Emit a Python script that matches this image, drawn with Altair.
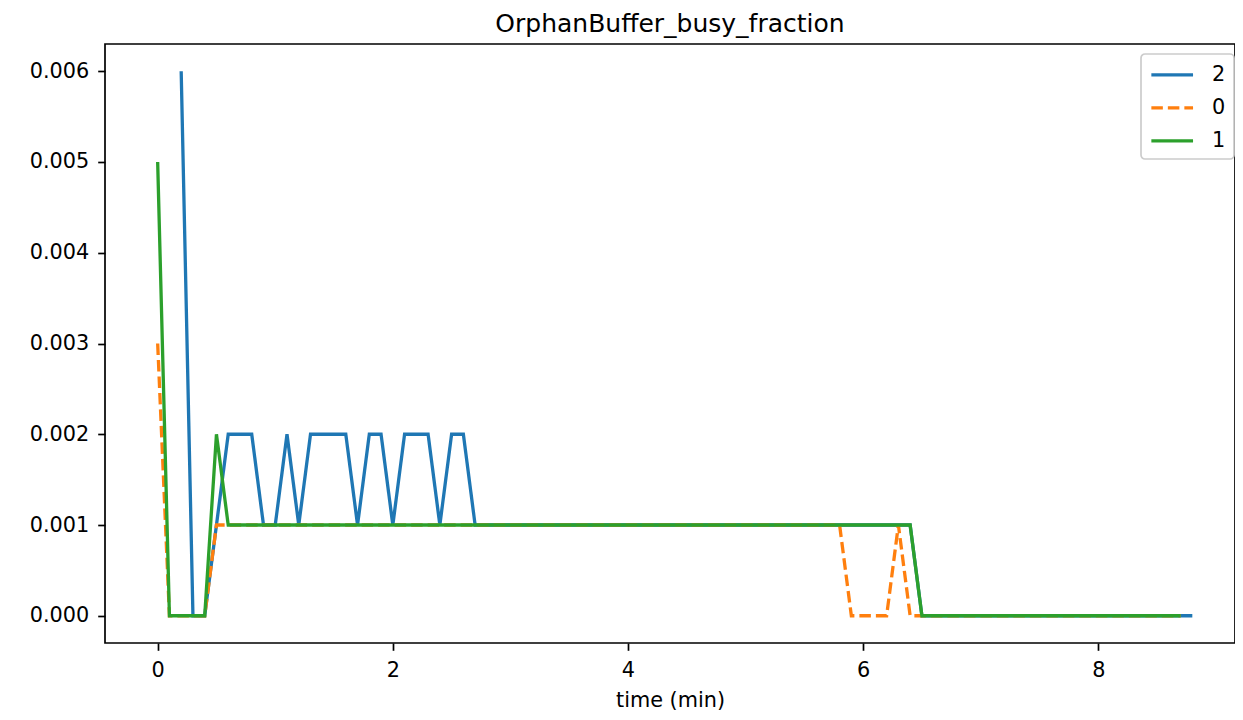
import altair as alt
import pandas as pd

# ---- data ----
series_order = ["2", "0", "1"]
series_colors = ["#1f77b4", "#ff7f0e", "#2ca02c"]

# series "2" sampled from t = 0.2 min to 8.8 min every 0.1 min
blue_start = 0.2
blue_values = [
    0.006, 0.0, 0.0, 0.001, 0.002, 0.002, 0.002, 0.001,
    0.001, 0.002, 0.001, 0.002, 0.002, 0.002, 0.002, 0.001, 0.002, 0.002,
    0.001, 0.002, 0.002, 0.002, 0.001, 0.002, 0.002, 0.001, 0.001, 0.001,
    0.001, 0.001, 0.001, 0.001, 0.001, 0.001, 0.001, 0.001, 0.001, 0.001,
    0.001, 0.001, 0.001, 0.001, 0.001, 0.001, 0.001, 0.001, 0.001, 0.001,
    0.001, 0.001, 0.001, 0.001, 0.001, 0.001, 0.001, 0.001, 0.001, 0.001,
    0.001, 0.001, 0.001, 0.001, 0.001, 0.0, 0.0, 0.0, 0.0, 0.0,
    0.0, 0.0, 0.0, 0.0, 0.0, 0.0, 0.0, 0.0, 0.0, 0.0,
    0.0, 0.0, 0.0, 0.0, 0.0, 0.0, 0.0, 0.0, 0.0,
]

# series "0" sampled from t = 0.0 min to 8.7 min every 0.1 min
orange_start = 0.0
orange_values = [
    0.003, 0.0, 0.0, 0.0, 0.0, 0.001, 0.001, 0.001, 0.001, 0.001,
    0.001, 0.001, 0.001, 0.001, 0.001, 0.001, 0.001, 0.001, 0.001, 0.001,
    0.001, 0.001, 0.001, 0.001, 0.001, 0.001, 0.001, 0.001, 0.001, 0.001,
    0.001, 0.001, 0.001, 0.001, 0.001, 0.001, 0.001, 0.001, 0.001, 0.001,
    0.001, 0.001, 0.001, 0.001, 0.001, 0.001, 0.001, 0.001, 0.001, 0.001,
    0.001, 0.001, 0.001, 0.001, 0.001, 0.001, 0.001, 0.001, 0.001, 0.0,
    0.0, 0.0, 0.0, 0.001, 0.0, 0.0, 0.0, 0.0, 0.0, 0.0,
    0.0, 0.0, 0.0, 0.0, 0.0, 0.0, 0.0, 0.0, 0.0, 0.0,
    0.0, 0.0, 0.0, 0.0, 0.0, 0.0, 0.0, 0.0,
]

# series "1" sampled from t = 0.0 min to 8.7 min every 0.1 min
green_start = 0.0
green_values = [
    0.005, 0.0, 0.0, 0.0, 0.0, 0.002, 0.001, 0.001, 0.001, 0.001,
    0.001, 0.001, 0.001, 0.001, 0.001, 0.001, 0.001, 0.001, 0.001, 0.001,
    0.001, 0.001, 0.001, 0.001, 0.001, 0.001, 0.001, 0.001, 0.001, 0.001,
    0.001, 0.001, 0.001, 0.001, 0.001, 0.001, 0.001, 0.001, 0.001, 0.001,
    0.001, 0.001, 0.001, 0.001, 0.001, 0.001, 0.001, 0.001, 0.001, 0.001,
    0.001, 0.001, 0.001, 0.001, 0.001, 0.001, 0.001, 0.001, 0.001, 0.001,
    0.001, 0.001, 0.001, 0.001, 0.001, 0.0, 0.0, 0.0, 0.0, 0.0,
    0.0, 0.0, 0.0, 0.0, 0.0, 0.0, 0.0, 0.0, 0.0, 0.0,
    0.0, 0.0, 0.0, 0.0, 0.0, 0.0, 0.0, 0.0,
]

x_ticks = [0, 2, 4, 6, 8]
y_ticks = [0.0, 0.001, 0.002, 0.003, 0.004, 0.005, 0.006]
title_text = "OrphanBuffer_busy_fraction"
x_title = "time (min)"

# ---- build table ----
rows = []
for name, start, vals in [("2", blue_start, blue_values),
                          ("0", orange_start, orange_values),
                          ("1", green_start, green_values)]:
    for i, v in enumerate(vals):
        rows.append({"time": round(start + 0.1 * i, 2), "value": v, "series": name})
df = pd.DataFrame(rows)

FONT = "DejaVu Sans"
FS = 20.8

color_enc = alt.Color(
    "series:N",
    scale=alt.Scale(domain=series_order, range=series_colors),
    sort=series_order,
    legend=alt.Legend(title=None),
)
dash_enc = alt.StrokeDash(
    "series:N",
    scale=alt.Scale(domain=series_order, range=[[1, 0], [11.5, 5], [1, 0]]),
    sort=series_order,
    legend=alt.Legend(title=None),
)

base = alt.Chart(df).mark_line(strokeWidth=3.3).encode(
    x=alt.X(
        "time:Q",
        scale=alt.Scale(domain=[-0.448, 9.163], nice=False, zero=False),
        axis=alt.Axis(values=x_ticks, format="d", title=x_title,
                      labelPadding=10, titleY=63, titleBaseline="alphabetic"),
    ),
    y=alt.Y(
        "value:Q",
        scale=alt.Scale(domain=[-0.0003, 0.0063], nice=False, zero=False),
        axis=alt.Axis(values=y_ticks, format=".3f", title=None, labelPadding=9),
    ),
    color=color_enc,
    strokeDash=dash_enc,
)

layers = [base.transform_filter(alt.datum.series == s) for s in series_order]

chart = alt.layer(*layers).properties(
    width=1130,
    height=599,
    title=alt.TitleParams(title_text, font=FONT, fontSize=25, fontWeight="normal",
                          color="black", anchor="middle", offset=7.5),
    autosize=alt.AutoSizeParams(type="none"),
    padding={"left": 97, "top": 36, "right": 0, "bottom": 69},
).configure_view(
    stroke="black", strokeWidth=1.7
).configure_axis(
    domain=False,
    grid=False,
    labelFont=FONT,
    labelFontSize=FS,
    labelColor="black",
    tickColor="black",
    tickSize=7.3,
    tickWidth=1.7,
    titleFont=FONT,
    titleFontSize=FS,
    titleFontWeight="normal",
    titleColor="black",
).configure_legend(
    orient="none",
    legendX=1036,
    legendY=10,
    padding=8.3,
    rowPadding=10,
    fillColor="rgba(255,255,255,0.8)",
    strokeColor="#cccccc",
    strokeWidth=1.7,
    cornerRadius=4,
    symbolType="M-1.985,0L1.985,0",
    symbolSize=441,
    symbolStrokeWidth=3.3,
    symbolOffset=10.4,
    labelOffset=27.4,
    labelFont=FONT,
    labelFontSize=FS,
    labelColor="black",
)

chart.save("out.html", embed_options={"renderer": "svg", "actions": False})
